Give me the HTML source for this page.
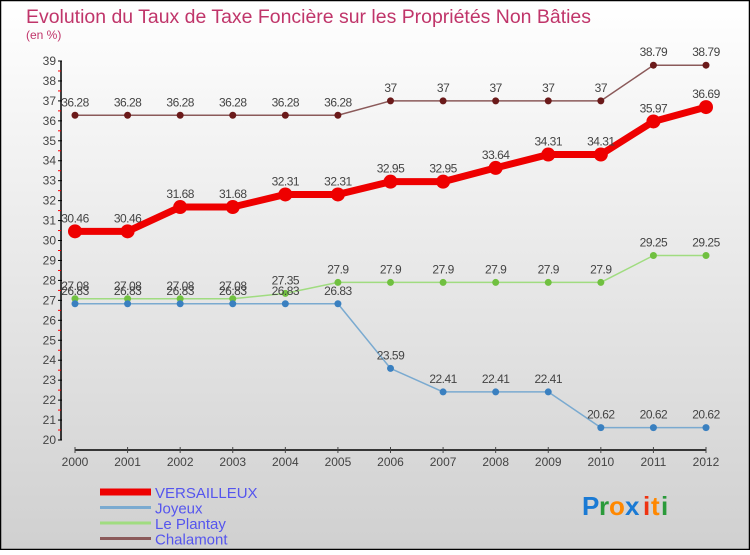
<!DOCTYPE html>
<html><head><meta charset="utf-8"><style>
html,body{margin:0;padding:0}
body{width:750px;height:550px;overflow:hidden;font-family:"Liberation Sans",sans-serif}
</style></head><body>
<svg width="750" height="550" xmlns="http://www.w3.org/2000/svg" id="svg">
<defs><linearGradient id="bg" x1="0" y1="0" x2="0" y2="1"><stop offset="0" stop-color="#ffffff"/><stop offset="1" stop-color="#d0d0d0"/></linearGradient></defs>
<rect x="0.5" y="0.5" width="749" height="549" fill="url(#bg)" stroke="#000" stroke-width="1.5"/>
<text x="26" y="23" font-size="19" fill="#c0356a" textLength="565" lengthAdjust="spacingAndGlyphs">Evolution du Taux de Taxe Foncière sur les Propriétés Non Bâties</text>
<text x="26" y="39" font-size="12" fill="#c0356a">(en %)</text>
<g id="axes"></g>
<g id="series"></g>
<g id="legend"></g>
<g font-size="26" font-weight="bold" font-family="'Liberation Sans',sans-serif">
<text x="582" y="515" fill="#1a7ad4">P</text><text x="599" y="515" fill="#2a9a3a">r</text><text x="609" y="515" fill="#ff8800">o</text><text x="625" y="515" fill="#1a7ad4">x</text><text x="643" y="515" fill="#ee3311">i</text><text x="651" y="515" fill="#ff8800">t</text><text x="661" y="515" fill="#2a9a3a">i</text>
</g>
</svg>
<script>
const years=[2000,2001,2002,2003,2004,2005,2006,2007,2008,2009,2010,2011,2012];
const yTicks=[20,21,22,23,24,25,26,27,28,29,30,31,32,33,34,35,36,37,38,39];
const versailleux=[30.46,30.46,31.68,31.68,32.31,32.31,32.95,32.95,33.64,34.31,34.31,35.97,36.69];
const joyeux=[26.83,26.83,26.83,26.83,26.83,26.83,23.59,22.41,22.41,22.41,20.62,20.62,20.62];
const lePlantay=[27.08,27.08,27.08,27.08,27.35,27.9,27.9,27.9,27.9,27.9,27.9,29.25,29.25];
const chalamont=[36.28,36.28,36.28,36.28,36.28,36.28,37,37,37,37,37,38.79,38.79];
const seriesNames=["VERSAILLEUX","Joyeux","Le Plantay","Chalamont"];
const NS="http://www.w3.org/2000/svg";
const x=i=>75+i*(706-75)/(years.length-1);
const y=v=>440-(v-20)*(440-61)/19;
function mk(tag,attrs,parent){const e=document.createElementNS(NS,tag);for(const k in attrs)e.setAttribute(k,attrs[k]);parent.appendChild(e);return e;}
const ax=document.getElementById('axes');
let yl=mk('line',{x1:61,y1:y(39),x2:61,y2:y(20),stroke:'#000','stroke-width':1.5},ax);


yTicks.forEach(t=>{
  mk('line',{x1:58,x2:62,y1:y(t),y2:y(t),stroke:'#000'},ax);
  if(t<39) mk('line',{x1:58,x2:61,y1:y(t+0.5),y2:y(t+0.5),stroke:'#f00'},ax);
  const tx=mk('text',{x:56,y:y(t)+4,'text-anchor':'end','font-size':12,fill:'#444'},ax);
  
  
  tx.textContent=t;
});
let xl=mk('line',{x1:75,y1:450,x2:706,y2:450,stroke:'#000','stroke-width':1.5},ax);


years.forEach((yr,i)=>{
  mk('line',{x1:x(i),x2:x(i),y1:447,y2:453,stroke:'#444'},ax);
  const tx=mk('text',{x:x(i),y:466,'text-anchor':'middle','font-size':12,fill:'#444'},ax);
  
  
  tx.textContent=yr;
});
const sg=document.getElementById('series');
function drawSeries(vals,name,color,w,r,dot){
  const g=mk('g',{},sg);
  
  
  mk('polyline',{points:vals.map((v,i)=>x(i)+','+y(v)).join(' '),fill:'none',stroke:color,'stroke-width':w,'stroke-linejoin':'round'},g);
  vals.forEach((v,i)=>{
    const c=mk('circle',{cx:x(i),cy:y(v),r:r,fill:dot},g);
    
    
    const t=mk('text',{x:x(i),y:y(v)-9,'text-anchor':'middle','font-size':12,fill:'#444','letter-spacing':'-0.5'},g);
    
    
    t.textContent=v;
  });
}
drawSeries(chalamont,'chalamont','#8b5a5a',1.5,3.5,'#6b1a1a');
drawSeries(lePlantay,'le-plantay','#a0dc80',1.5,3.5,'#70c040');
drawSeries(joyeux,'joyeux','#7aaad0',1.5,3.5,'#3a80c0');
drawSeries(versailleux,'versailleux','#ee0000',7,7,'#ee0000');
const lg=document.getElementById('legend');
const lc=['#ee0000','#7aaad0','#a0dc80','#8b5a5a'];const lw=[7,3,3,3];
seriesNames.forEach((n,i)=>{
  const g=mk('g',{},lg);
  
  
  const yy=492+i*15.5;
  mk('line',{x1:100,x2:151,y1:yy,y2:yy,stroke:lc[i],'stroke-width':lw[i]},g);
  const t=mk('text',{x:155,y:yy+6,'font-size':15,fill:'#5555ee'},g);
  t.textContent=n;
});
</script>
</body></html>
